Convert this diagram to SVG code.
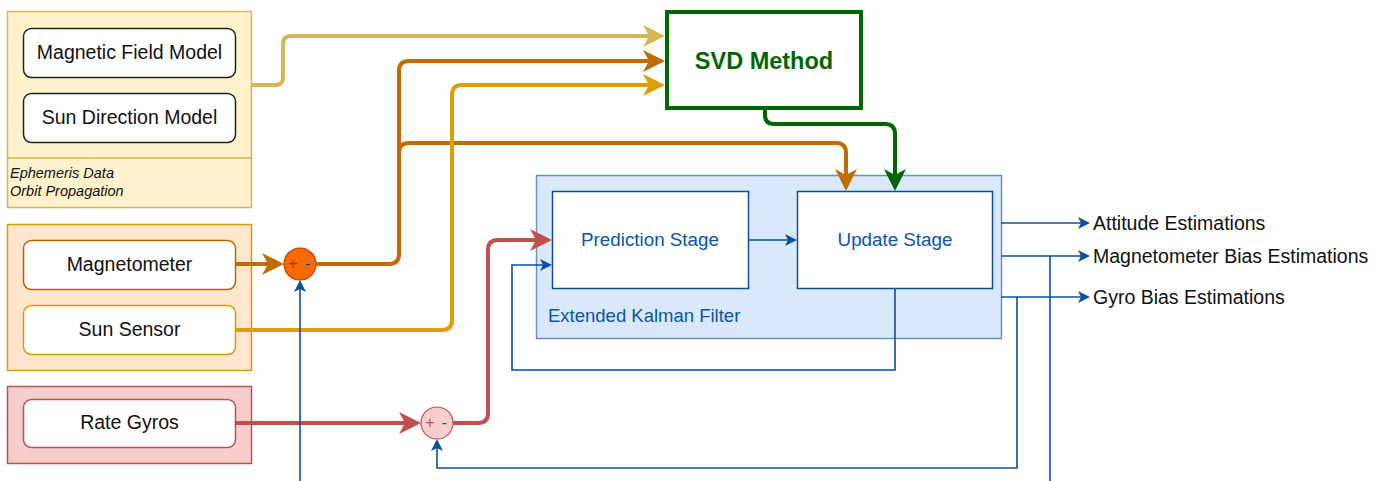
<svg xmlns="http://www.w3.org/2000/svg" width="1396" height="481" viewBox="0 0 1396 481">
<style>
text{font-family:"Liberation Sans",Arial,sans-serif;}
.node{font-size:19.5px;fill:#111;text-anchor:middle;dominant-baseline:central;}
.blue{font-size:18.8px;fill:#0a55a5;text-anchor:middle;dominant-baseline:central;}
.out{font-size:19.5px;fill:#111;dominant-baseline:central;}
.thick{fill:none;stroke-width:4;stroke-linejoin:round;}
.thin{fill:none;stroke:#0d4f9c;stroke-width:1.6;}
.box{fill:#fff;stroke-width:1.5;}
.sum{font-size:16px;text-anchor:middle;dominant-baseline:central;}
</style>
<defs>
<marker id="aY" markerUnits="userSpaceOnUse" markerWidth="22" markerHeight="22" viewBox="0 0 22 22" refX="6" refY="11" orient="auto"><path d="M0,0 L22,11 L0,22 L6,11 Z" fill="#d6b656"/></marker>
<marker id="aB" markerUnits="userSpaceOnUse" markerWidth="22" markerHeight="22" viewBox="0 0 22 22" refX="6" refY="11" orient="auto"><path d="M0,0 L22,11 L0,22 L6,11 Z" fill="#c06d00"/></marker>
<marker id="aS" markerUnits="userSpaceOnUse" markerWidth="22" markerHeight="22" viewBox="0 0 22 22" refX="6" refY="11" orient="auto"><path d="M0,0 L22,11 L0,22 L6,11 Z" fill="#dc9e00"/></marker>
<marker id="aR" markerUnits="userSpaceOnUse" markerWidth="22" markerHeight="22" viewBox="0 0 22 22" refX="6" refY="11" orient="auto"><path d="M0,0 L22,11 L0,22 L6,11 Z" fill="#c0504d"/></marker>
<marker id="aG" markerUnits="userSpaceOnUse" markerWidth="22" markerHeight="22" viewBox="0 0 22 22" refX="6" refY="11" orient="auto"><path d="M0,0 L22,11 L0,22 L6,11 Z" fill="#006600"/></marker>
<marker id="aL" markerUnits="userSpaceOnUse" markerWidth="12" markerHeight="12" viewBox="0 0 12 12" refX="3" refY="6" orient="auto"><path d="M0,0 L12,6 L0,12 L3,6 Z" fill="#0d4f9c"/></marker>
</defs>

<g id="ephemeris">
<rect x="7.5" y="11.5" width="244" height="196" fill="#fff2cc" stroke="#d6b656" stroke-width="1.5"/>
<line x1="7.5" y1="158" x2="251.5" y2="158" stroke="#d6b656" stroke-width="1.5"/>
<text x="10" y="177.5" font-size="14.5" font-style="italic" fill="#111">Ephemeris Data</text>
<text x="10" y="195.5" font-size="14.5" font-style="italic" fill="#111">Orbit Propagation</text>
</g>
<g id="magnetic-field-model">
<rect class="box" x="23.5" y="28.5" width="212" height="49" rx="8" stroke="#222"/>
<text class="node" x="129.5" y="51.5">Magnetic Field Model</text>
</g>
<g id="sun-direction-model">
<rect class="box" x="23.5" y="93.5" width="212" height="49" rx="8" stroke="#222"/>
<text class="node" x="129.5" y="116.5">Sun Direction Model</text>
</g>

<g id="sensors">
<rect x="7.5" y="224.5" width="244" height="146" fill="#ffe6cc" stroke="#d79b00" stroke-width="1.5"/>
</g>
<g id="magnetometer">
<rect class="box" x="23.5" y="240.5" width="212" height="49" rx="8" stroke="#b46504"/>
<text class="node" x="129.5" y="263.5">Magnetometer</text>
</g>
<g id="sun-sensor">
<rect class="box" x="23.5" y="305.5" width="212" height="49" rx="8" stroke="#d79b00"/>
<text class="node" x="129.5" y="328.5">Sun Sensor</text>
</g>

<g id="gyros">
<rect x="7.5" y="386.5" width="244" height="77" fill="#f8cecc" stroke="#b85450" stroke-width="1.5"/>
</g>
<g id="rate-gyros">
<rect class="box" x="23.5" y="399.5" width="212" height="48" rx="8" stroke="#b85450"/>
<text class="node" x="129.5" y="422">Rate Gyros</text>
</g>

<g id="sum1">
<circle cx="300" cy="264" r="16" fill="#fa6800" stroke="#c73500" stroke-width="1.2"/>
<text class="sum" x="293" y="263" fill="#8a4a00">+</text>
<text class="sum" x="307.5" y="263" fill="#0d4f9c">-</text>
</g>
<g id="sum2">
<circle cx="437" cy="423" r="16" fill="#f8cecc" stroke="#b85450" stroke-width="1.2"/>
<text class="sum" x="430" y="422" fill="#b85450">+</text>
<text class="sum" x="444.5" y="422" fill="#0d4f9c">-</text>
</g>

<g id="svd-method">
<rect x="667" y="12" width="194" height="96" fill="#fff" stroke="#006600" stroke-width="4"/>
<text x="764" y="61" font-size="23.5" font-weight="bold" fill="#006600" text-anchor="middle" dominant-baseline="central">SVD Method</text>
</g>

<g id="ekf">
<rect x="536.5" y="175.5" width="465" height="163" fill="#dae8fc" stroke="#6c8ebf" stroke-width="1.5"/>
<text x="548" y="315.5" font-size="18.5" fill="#0a55a5" dominant-baseline="central">Extended Kalman Filter</text>
</g>
<g id="prediction-stage">
<rect x="552.5" y="191.5" width="196" height="97" fill="#fff" stroke="#0d4f9c" stroke-width="1.5"/>
<text class="blue" x="650" y="239">Prediction Stage</text>
</g>
<g id="update-stage">
<rect x="797.5" y="191.5" width="195" height="97" fill="#fff" stroke="#0d4f9c" stroke-width="1.5"/>
<text class="blue" x="895" y="239">Update Stage</text>
</g>

<g id="outputs">
<text class="out" x="1093" y="222.5">Attitude Estimations</text>
<text class="out" x="1093" y="255.5">Magnetometer Bias Estimations</text>
<text class="out" x="1093" y="296.5">Gyro Bias Estimations</text>
</g>

<g id="connectors">
<path class="thick" stroke="#d6b656" d="M251,85 L275,85 Q283,85 283,77 L283,44 Q283,36 291,36 L649,36" marker-end="url(#aY)"/>
<path class="thick" stroke="#c06d00" d="M235,264 L268,264" marker-end="url(#aB)"/>
<path class="thick" stroke="#c06d00" d="M316,264 L389,264 Q399,264 399,254 L399,71 Q399,61 409,61 L649,61" marker-end="url(#aB)"/>
<path class="thick" stroke="#c06d00" d="M399,153 Q399,143 409,143 L836,143 Q846,143 846,153 L846,175" marker-end="url(#aB)"/>
<path class="thick" stroke="#dc9e00" d="M235,330 L442,330 Q452,330 452,320 L452,95 Q452,85 462,85 L649,85" marker-end="url(#aS)"/>
<path class="thick" stroke="#006600" d="M765,110 L765,115 Q765,124 774,124 L885,124 Q895,124 895,134 L895,175" marker-end="url(#aG)"/>
<path class="thick" stroke="#c0504d" d="M235,423 L405,423" marker-end="url(#aR)"/>
<path class="thick" stroke="#c0504d" d="M453,423 L478,423 Q488,423 488,413 L488,250 Q488,240 498,240 L536,240" marker-end="url(#aR)"/>
<path class="thin" d="M748,240 L788,240" marker-end="url(#aL)"/>
<path class="thin" d="M895,289 L895,370 L512,370 L512,265 L543,265" marker-end="url(#aL)"/>
<path class="thin" d="M1001,223 L1081,223" marker-end="url(#aL)"/>
<path class="thin" d="M1001,256 L1081,256" marker-end="url(#aL)"/>
<path class="thin" d="M1001,297 L1081,297" marker-end="url(#aL)"/>
<path class="thin" d="M1050,256 L1050,481"/>
<path class="thin" d="M1017,297 L1017,468 L437,468 L437,448" marker-end="url(#aL)"/>
<path class="thin" d="M300,481 L300,289" marker-end="url(#aL)"/>
</g>
</svg>
